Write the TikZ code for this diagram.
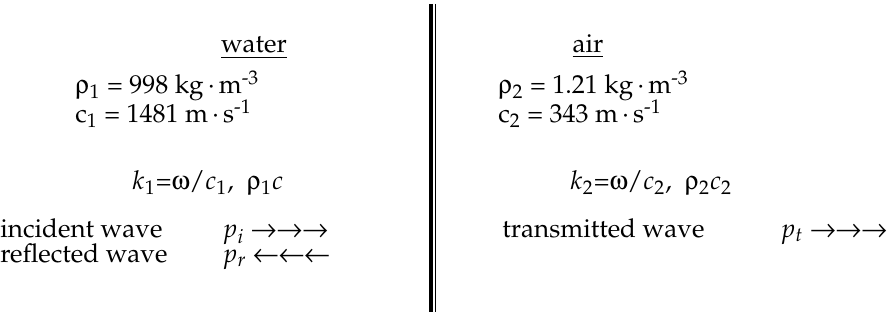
\documentclass[tikz,border=0pt]{standalone}
\usepackage[T1]{fontenc}
\usepackage{mathpazo}
\usepackage{pifont}
\usetikzlibrary{positioning}

\newcommand{\grho}{\Pisymbol{psy}{114}}
\newcommand{\gomega}{\Pisymbol{psy}{119}}
\newcommand{\rarr}{\Pisymbol{psy}{174}}
\newcommand{\larr}{\Pisymbol{psy}{172}}

\begin{document}
\begin{tikzpicture}[
    x=0.5pt, y=-0.5pt,
    txt/.style={inner sep=0pt, anchor=base west,
                font=\fontsize{13}{15}\selectfont},
    head/.style={inner sep=0pt, anchor=base,
                font=\fontsize{13}{15}\selectfont},
    wall/.style={line width=1.6pt},
    thinwall/.style={line width=0.6pt}
]

\useasboundingbox (0,0) rectangle (892,325);

%% INTERFACE
\coordinate (wtop) at (431,4);
\coordinate (wbot) at (431,312);
\draw[wall] (wtop) -- (wbot);
\draw[thinwall] ([xshift=2.4pt]wtop) -- ([xshift=2.4pt]wbot);

%% WATER
\node[head] (water) at (254,53) {\underline{water}};

\node[txt] (rho1) at (75,94) {\grho$_1$ = 998 kg\,\textperiodcentered\,m\textsuperscript{-3}};
\node[txt, below=14.5pt of rho1.base west, anchor=base west] (c1) {
    c$_1$ = 1481 m\,\textperiodcentered\,s\textsuperscript{-1}
};

\node[txt] (k1) at (132,190) {$k_1$=\gomega/$c_1$,\ \ \grho$_1c$};

\node[txt] (inc) at (0,238) {incident wave};
\node[txt] (pinc) at (222,238) {$p_i$ \rarr\rarr\rarr};
\node[txt, below=12.5pt of inc.base west, anchor=base west] (refl) {reflected wave};
\node[txt] (prefl) at (refl.base -| pinc.base west) {$p_r$ \larr\larr\larr};

%% AIR
\node[head] (air) at (588,53) {\underline{air}};

\node[txt] (rho2) at (498,94) {\grho$_2$ = 1.21 kg\,\textperiodcentered\,m\textsuperscript{-3}};
\node[txt, below=14.5pt of rho2.base west, anchor=base west] (c2) {
    c$_2$ = 343 m\,\textperiodcentered\,s\textsuperscript{-1}
};

\node[txt] (k2) at (570,190) {$k_2$=\gomega/$c_2$,\ \ \grho$_2c_2$};

\node[txt] (trans) at (502,238) {transmitted wave};
\node[txt] (ptrans) at (780,238) {$p_t$ \rarr\rarr\rarr};

\end{tikzpicture}
\end{document}
